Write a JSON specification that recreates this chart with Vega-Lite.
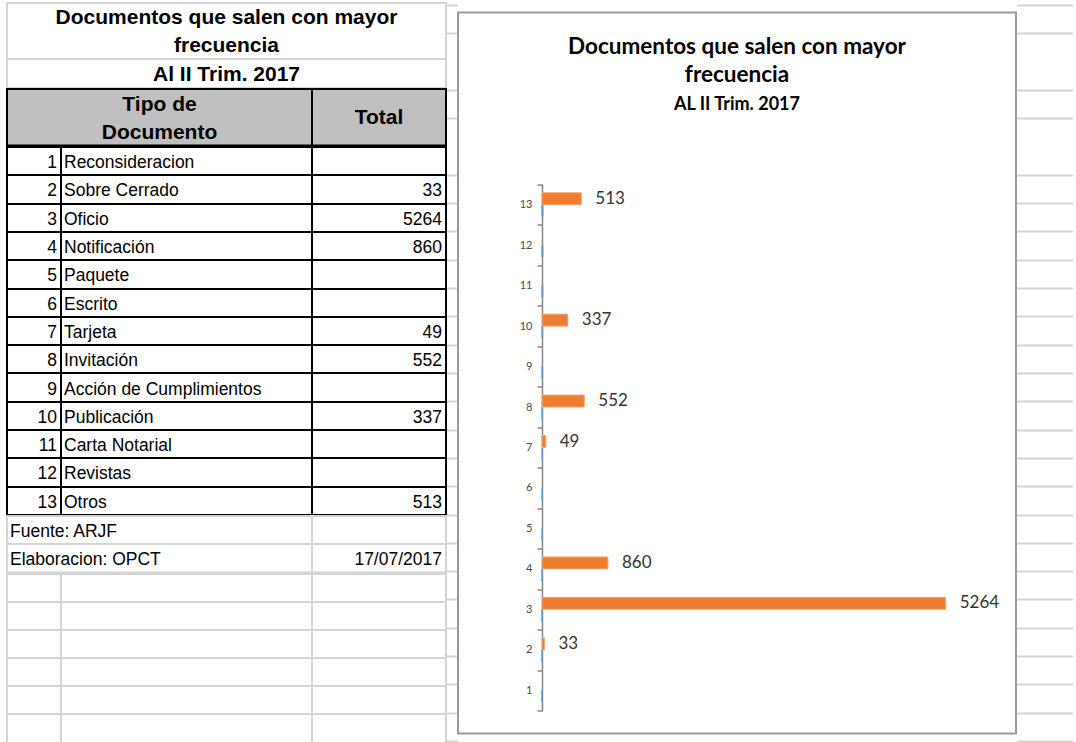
{
  "$schema": "https://vega.github.io/schema/vega-lite/v6.json",
  "background": "white",
  "padding": {"left": 6, "top": 2, "right": 0, "bottom": 0},
  "config": {"view": {"stroke": null}, "font": "Liberation Sans", "axis": {"translate": 0}},
  "datasets": {
    "docs": [
      {"n": 1, "tipo": "Reconsideracion", "total": null},
      {"n": 2, "tipo": "Sobre Cerrado", "total": 33},
      {"n": 3, "tipo": "Oficio", "total": 5264},
      {"n": 4, "tipo": "Notificación", "total": 860},
      {"n": 5, "tipo": "Paquete", "total": null},
      {"n": 6, "tipo": "Escrito", "total": null},
      {"n": 7, "tipo": "Tarjeta", "total": 49},
      {"n": 8, "tipo": "Invitación", "total": 552},
      {"n": 9, "tipo": "Acción de Cumplimientos", "total": null},
      {"n": 10, "tipo": "Publicación", "total": 337},
      {"n": 11, "tipo": "Carta Notarial", "total": null},
      {"n": 12, "tipo": "Revistas", "total": null},
      {"n": 13, "tipo": "Otros", "total": 513}
    ],
    "filas": [
      {"fila": 1}, {"fila": 2}, {"fila": 3}, {"fila": 4}, {"fila": 5}, {"fila": 6},
      {"fila": 7}, {"fila": 8}, {"fila": 9}, {"fila": 10}, {"fila": 11}, {"fila": 12},
      {"fila": 13}, {"fila": 14}, {"fila": 15}, {"fila": 16}, {"fila": 17}, {"fila": 18},
      {"fila": 19}, {"fila": 20}, {"fila": 21}, {"fila": 22}, {"fila": 23}, {"fila": 24},
      {"fila": 25}, {"fila": 26}
    ]
  },
  "spacing": -3,
  "center": true,
  "hconcat": [
    {
      "spacing": -2,
      "vconcat": [
        {
          "spacing": -4,
          "vconcat": [
            {
              "width": 439,
              "height": 84.9,
              "view": {"stroke": "#d4d4d4", "strokeWidth": 2},
              "data": {"values": [
                {"fila": 1, "texto": "Documentos que salen con mayor"},
                {"fila": 2, "texto": "frecuencia"},
                {"fila": 3, "texto": "Al II Trim. 2017"}
              ]},
              "mark": {"type": "text", "font": "Liberation Sans", "fontSize": 21, "fontWeight": "bold", "baseline": "middle", "color": "black", "dy": 1},
              "encoding": {
                "y": {"field": "fila", "type": "ordinal", "scale": {"type": "band", "domain": [1, 2, 3], "paddingInner": 0, "paddingOuter": 0},
                      "axis": {"title": null, "labels": false, "ticks": false, "domain": false, "grid": true, "gridColor": "#d4d4d4", "gridWidth": 2, "bandPosition": 0, "values": [3]}},
                "text": {"field": "texto", "type": "nominal"}
              }
            },
            {
              "spacing": 0,
              "bounds": "flush",
              "hconcat": [
                {
                  "width": 305,
                  "height": 56.6,
                  "view": {"fill": "#c0c0c0", "stroke": "black", "strokeWidth": 2},
                  "data": {"values": [{"fila": 1, "texto": "Tipo de"}, {"fila": 2, "texto": "Documento"}]},
                  "mark": {"type": "text", "font": "Liberation Sans", "fontSize": 21, "fontWeight": "bold", "baseline": "middle", "color": "black", "dy": 1.5},
                  "encoding": {
                    "y": {"field": "fila", "type": "ordinal", "scale": {"type": "band", "domain": [1, 2], "paddingInner": 0, "paddingOuter": 0}, "axis": null},
                    "text": {"field": "texto", "type": "nominal"}
                  }
                },
                {
                  "width": 134,
                  "height": 56.6,
                  "view": {"fill": "#c0c0c0", "stroke": "black", "strokeWidth": 2},
                  "data": {"values": [{"texto": "Total"}]},
                  "mark": {"type": "text", "font": "Liberation Sans", "fontSize": 21, "fontWeight": "bold", "baseline": "middle", "color": "black", "dy": 1},
                  "encoding": {"text": {"field": "texto", "type": "nominal"}}
                }
              ]
            },
            {
              "spacing": 0,
              "bounds": "flush",
              "hconcat": [
                {
                  "width": 54,
                  "height": 367.9,
                  "view": {"stroke": "black", "strokeWidth": 2},
                  "data": {"name": "docs"},
                  "mark": {"type": "text", "font": "Liberation Sans", "fontSize": 17.5, "align": "right", "baseline": "middle", "dx": -4, "dy": 2, "color": "black"},
                  "encoding": {
                    "y": {"field": "n", "type": "ordinal", "scale": {"type": "band", "paddingInner": 0, "paddingOuter": 0},
                          "axis": {"title": null, "labels": false, "ticks": false, "domain": false, "grid": true, "gridColor": "black", "gridWidth": 2, "tickBand": "extent"}},
                    "x": {"datum": 1, "type": "quantitative", "scale": {"domain": [0, 1]}, "axis": null},
                    "text": {"field": "n", "type": "nominal"}
                  }
                },
                {
                  "width": 251,
                  "height": 367.9,
                  "view": {"stroke": "black", "strokeWidth": 2},
                  "data": {"name": "docs"},
                  "mark": {"type": "text", "font": "Liberation Sans", "fontSize": 17.5, "align": "left", "baseline": "middle", "dx": 3, "dy": 2, "color": "black"},
                  "encoding": {
                    "y": {"field": "n", "type": "ordinal", "scale": {"type": "band", "paddingInner": 0, "paddingOuter": 0},
                          "axis": {"title": null, "labels": false, "ticks": false, "domain": false, "grid": true, "gridColor": "black", "gridWidth": 2, "tickBand": "extent"}},
                    "x": {"datum": 0, "type": "quantitative", "scale": {"domain": [0, 1]}, "axis": null},
                    "text": {"field": "tipo", "type": "nominal"}
                  }
                },
                {
                  "width": 134,
                  "height": 367.9,
                  "view": {"stroke": "black", "strokeWidth": 2},
                  "data": {"name": "docs"},
                  "mark": {"type": "text", "font": "Liberation Sans", "fontSize": 17.5, "align": "right", "baseline": "middle", "dx": -4, "dy": 2, "color": "black"},
                  "encoding": {
                    "y": {"field": "n", "type": "ordinal", "scale": {"type": "band", "paddingInner": 0, "paddingOuter": 0},
                          "axis": {"title": null, "labels": false, "ticks": false, "domain": false, "grid": true, "gridColor": "black", "gridWidth": 2, "tickBand": "extent"}},
                    "x": {"datum": 1, "type": "quantitative", "scale": {"domain": [0, 1]}, "axis": null},
                    "text": {"condition": {"test": "isValid(datum.total)", "field": "total", "type": "nominal"}, "value": ""}
                  }
                }
              ]
            }
          ]
        },
        {
          "spacing": -5,
          "vconcat": [
            {
              "spacing": 0,
              "bounds": "flush",
              "hconcat": [
                {
                  "width": 305,
                  "height": 56.6,
                  "view": {"stroke": "#d4d4d4", "strokeWidth": 2},
                  "data": {"values": [
                    {"fila": 1, "texto": "Fuente: ARJF"},
                    {"fila": 2, "texto": "Elaboracion: OPCT"}
                  ]},
                  "mark": {"type": "text", "font": "Liberation Sans", "fontSize": 17.5, "align": "left", "baseline": "middle", "dx": 3, "dy": 2, "color": "black"},
                  "encoding": {
                    "y": {"field": "fila", "type": "ordinal", "scale": {"type": "band", "domain": [1, 2], "paddingInner": 0, "paddingOuter": 0},
                          "axis": {"title": null, "labels": false, "ticks": false, "domain": false, "grid": true, "gridColor": "#d4d4d4", "gridWidth": 2, "bandPosition": 0, "values": [2]}},
                    "x": {"datum": 0, "type": "quantitative", "scale": {"domain": [0, 1]}, "axis": null},
                    "text": {"field": "texto", "type": "nominal"}
                  }
                },
                {
                  "width": 134,
                  "height": 56.6,
                  "view": {"stroke": "#d4d4d4", "strokeWidth": 2},
                  "data": {"values": [{"fila": 2, "texto": "17/07/2017"}]},
                  "mark": {"type": "text", "font": "Liberation Sans", "fontSize": 17.5, "align": "right", "baseline": "middle", "dx": -4, "dy": 2, "color": "black"},
                  "encoding": {
                    "y": {"field": "fila", "type": "ordinal", "scale": {"type": "band", "domain": [1, 2], "paddingInner": 0, "paddingOuter": 0},
                          "axis": {"title": null, "labels": false, "ticks": false, "domain": false, "grid": true, "gridColor": "#d4d4d4", "gridWidth": 2, "bandPosition": 0, "values": [2]}},
                    "x": {"datum": 1, "type": "quantitative", "scale": {"domain": [0, 1]}, "axis": null},
                    "text": {"field": "texto", "type": "nominal"}
                  }
                }
              ]
            },
            {
              "spacing": 0,
              "bounds": "flush",
              "hconcat": [
                {
                  "width": 54, "height": 169,
                  "view": {"stroke": "#d4d4d4", "strokeWidth": 2},
                  "data": {"name": "filas"},
                  "transform": [{"filter": "datum.fila <= 6"}],
                  "mark": {"type": "text", "text": ""},
                  "encoding": {"y": {"field": "fila", "type": "ordinal", "scale": {"type": "band", "domain": [1, 2, 3, 4, 5, 6], "paddingInner": 0, "paddingOuter": 0},
                    "axis": {"title": null, "labels": false, "ticks": false, "domain": false, "grid": true, "gridColor": "#d4d4d4", "gridWidth": 2, "bandPosition": 0, "values": [2, 3, 4, 5, 6]}}}
                },
                {
                  "width": 251, "height": 169,
                  "view": {"stroke": "#d4d4d4", "strokeWidth": 2},
                  "data": {"name": "filas"},
                  "transform": [{"filter": "datum.fila <= 6"}],
                  "mark": {"type": "text", "text": ""},
                  "encoding": {"y": {"field": "fila", "type": "ordinal", "scale": {"type": "band", "domain": [1, 2, 3, 4, 5, 6], "paddingInner": 0, "paddingOuter": 0},
                    "axis": {"title": null, "labels": false, "ticks": false, "domain": false, "grid": true, "gridColor": "#d4d4d4", "gridWidth": 2, "bandPosition": 0, "values": [2, 3, 4, 5, 6]}}}
                },
                {
                  "width": 134, "height": 169,
                  "view": {"stroke": "#d4d4d4", "strokeWidth": 2},
                  "data": {"name": "filas"},
                  "transform": [{"filter": "datum.fila <= 6"}],
                  "mark": {"type": "text", "text": ""},
                  "encoding": {"y": {"field": "fila", "type": "ordinal", "scale": {"type": "band", "domain": [1, 2, 3, 4, 5, 6], "paddingInner": 0, "paddingOuter": 0},
                    "axis": {"title": null, "labels": false, "ticks": false, "domain": false, "grid": true, "gridColor": "#d4d4d4", "gridWidth": 2, "bandPosition": 0, "values": [2, 3, 4, 5, 6]}}}
                }
              ]
            }
          ]
        }
      ]
    },
    {
      "width": 11,
      "height": 736,
      "data": {"name": "filas"},
      "mark": {"type": "text", "text": ""},
      "encoding": {"y": {"field": "fila", "type": "ordinal", "scale": {"type": "band", "paddingInner": 0, "paddingOuter": 0},
        "axis": {"title": null, "labels": false, "ticks": false, "domain": false, "grid": true, "gridColor": "#d4d4d4", "gridWidth": 2, "tickBand": "extent",
                 "values": [1, 3, 4, 6, 7, 8, 9, 10, 11, 12, 13, 14, 15, 16, 17, 18, 19, 20, 21, 22, 23, 24, 25, 26]}}}
    },
    {
      "width": 558,
      "height": 721,
      "view": {"stroke": "#9a9a9a", "strokeWidth": 2, "fill": "white"},
      "title": {
        "text": ["Documentos que salen con mayor", "frecuencia"],
        "subtitle": "AL II Trim. 2017",
        "anchor": "middle",
        "offset": -107,
        "font": "Lato",
        "fontSize": 22.5,
        "fontWeight": "bold",
        "lineHeight": 28,
        "color": "black",
        "subtitleFont": "Lato",
        "subtitleFontSize": 18,
        "subtitleFontWeight": "bold",
        "subtitleColor": "black",
        "subtitlePadding": 9
      },
      "data": {"name": "docs"},
      "transform": [{"fold": ["n", "total"], "as": ["serie", "valor"]}],
      "encoding": {
        "y": {
          "field": "n", "type": "ordinal", "sort": "descending",
          "scale": {"type": "band", "paddingInner": 0, "paddingOuter": 0, "range": [172, 698]},
          "axis": {"title": null, "domain": true, "domainColor": "#868686", "domainWidth": 1.5, "tickBand": "extent", "tickSize": 5, "tickColor": "#868686", "tickWidth": 1.5, "translate": 0.5,
                   "labelFont": "Lato", "labelFontSize": 11, "labelColor": "#4a4a4a", "labelPadding": 5, "labelAngle": 0, "offset": -84, "grid": false}
        }
      },
      "layer": [
        {
          "mark": {"type": "bar", "strokeWidth": 1},
          "encoding": {
            "x": {"field": "valor", "type": "quantitative", "scale": {"domain": [-1095, 6181], "nice": false, "zero": false}, "axis": null},
            "yOffset": {"field": "serie", "type": "nominal", "scale": {"domain": ["total", "n"], "paddingInner": 0, "paddingOuter": 0.686}},
            "color": {"field": "serie", "type": "nominal", "scale": {"domain": ["n", "total"], "range": ["#5b9bd5", "#ed7d31"]}, "legend": null},
            "stroke": {"field": "serie", "type": "nominal", "scale": {"domain": ["n", "total"], "range": ["#5b9bd5", "#f4a877"]}, "legend": null}
          }
        },
        {
          "transform": [{"filter": "datum.serie == 'total' && isValid(datum.valor)"}],
          "mark": {"type": "text", "font": "Lato", "fontSize": 17, "color": "#333333", "align": "left", "baseline": "middle", "dx": 14},
          "encoding": {
            "x": {"field": "valor", "type": "quantitative", "axis": null},
            "yOffset": {"field": "serie", "type": "nominal"},
            "text": {"field": "valor", "type": "quantitative", "format": "d"}
          }
        }
      ]
    },
    {
      "width": 56,
      "height": 736,
      "data": {"name": "filas"},
      "mark": {"type": "text", "text": ""},
      "encoding": {"y": {"field": "fila", "type": "ordinal", "scale": {"type": "band", "paddingInner": 0, "paddingOuter": 0},
        "axis": {"title": null, "labels": false, "ticks": false, "domain": false, "grid": true, "gridColor": "#d4d4d4", "gridWidth": 2, "tickBand": "extent",
                 "values": [1, 3, 4, 6, 7, 8, 9, 10, 11, 12, 13, 14, 15, 16, 17, 18, 19, 20, 21, 22, 23, 24, 25, 26]}}}
    }
  ]
}
